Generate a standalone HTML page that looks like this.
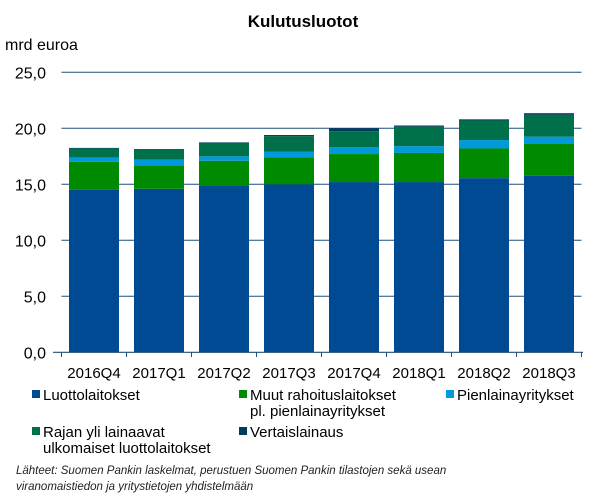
<!DOCTYPE html>
<html><head><meta charset="utf-8"><style>
body{margin:0;background:#fff;font-family:"Liberation Sans",sans-serif;}
svg text{font-family:"Liberation Sans",sans-serif;}
</style></head><body>
<svg id="chart" width="607" height="495">
<text x="303" y="27" text-anchor="middle" font-size="17" font-weight="bold">Kulutusluotot</text>
<text x="5" y="50" font-size="16">mrd euroa</text>
<g id="grid"></g><g id="bars"></g><g id="xl"></g>
<g font-size="15">
<rect x="32" y="390" width="8" height="8" fill="#004A93"/><text x="43" y="400">Luottolaitokset</text>
<rect x="239" y="390" width="8" height="8" fill="#008A00"/><text x="250" y="400">Muut rahoituslaitokset</text><text x="250" y="416">pl. pienlainayritykset</text>
<rect x="446" y="390" width="8" height="8" fill="#0099DA"/><text x="457" y="400">Pienlainayritykset</text>
<rect x="32" y="427" width="8" height="8" fill="#00704A"/><text x="43" y="437">Rajan yli lainaavat</text><text x="43" y="453">ulkomaiset luottolaitokset</text>
<rect x="239" y="427" width="8" height="8" fill="#003D5C"/><text x="250" y="437">Vertaislainaus</text>
</g>
<g font-size="11.5" font-style="italic" fill="#222">
<text x="16" y="474">Lähteet: Suomen Pankin laskelmat, perustuen Suomen Pankin tilastojen sekä usean</text>
<text x="16" y="490">viranomaistiedon ja yritystietojen yhdistelmään</text></g>
</svg>
<script>
const categories=["2016Q4","2017Q1","2017Q2","2017Q3","2017Q4","2018Q1","2018Q2","2018Q3"];
const luotto=[14.5,14.6,14.85,15.0,15.2,15.2,15.55,15.75];
const muut=[2.5,2.1,2.25,2.4,2.5,2.6,2.65,2.85];
const pien=[0.4,0.5,0.4,0.5,0.6,0.6,0.75,0.65];
const rajan=[0.8,0.9,1.2,1.4,1.45,1.75,1.75,1.95];
const vertais=[0.05,0.05,0.05,0.1,0.25,0.1,0.1,0.15];
const yTicks=[0,5,10,15,20,25];
const yTickLabels=["0,0","5,0","10,0","15,0","20,0","25,0"];
const NS="http://www.w3.org/2000/svg";
const x0=61.5,step=65,bw=50;
const y=v=>352.3-v*11.2;
const xc=i=>x0+step*(i+0.5);
const grid=document.getElementById('grid'),bars=document.getElementById('bars'),xl=document.getElementById('xl');
function mk(tag,a,p){const e=document.createElementNS(NS,tag);for(const k in a)e.setAttribute(k,a[k]);p.appendChild(e);return e;}
yTicks.forEach((t,i)=>{
 if(t>0){const l=mk('line',{x1:61.5,x2:581.5,y1:y(t),y2:y(t),stroke:'#1F4E79','stroke-width':1},grid);
 
 }
 const tx=mk('text',{x:46,y:y(t)+6,'text-anchor':'end','font-size':16},grid);tx.textContent=yTickLabels[i];
 
 
});
const series=[[luotto,'#004A93','luottolaitokset'],[muut,'#008A00','muut'],[pien,'#0099DA','pienlaina'],[rajan,'#00704A','rajan-yli'],[vertais,'#003D5C','vertaislainaus']];
categories.forEach((c,i)=>{
 let base=0;
 series.forEach(([arr,col,nm])=>{
  const r=mk('rect',{x:xc(i)-bw/2,y:y(base+arr[i]),width:bw,height:y(base)-y(base+arr[i]),fill:col},bars);
  
  
  base+=arr[i];
 });
 const t=mk('text',{x:xc(i),y:378,'text-anchor':'middle','font-size':15},xl);t.textContent=c;
 
 
 mk('line',{x1:x0+step*i,x2:x0+step*i,y1:352,y2:357,stroke:'#1F4E79'},xl);
});
mk('line',{x1:x0+step*8,x2:x0+step*8,y1:352,y2:357,stroke:'#1F4E79'},xl);
const ax=mk('line',{x1:53,x2:583,y1:352.3,y2:352.3,stroke:'#1F4E79','stroke-width':1.2},xl);


</script>
</body></html>
